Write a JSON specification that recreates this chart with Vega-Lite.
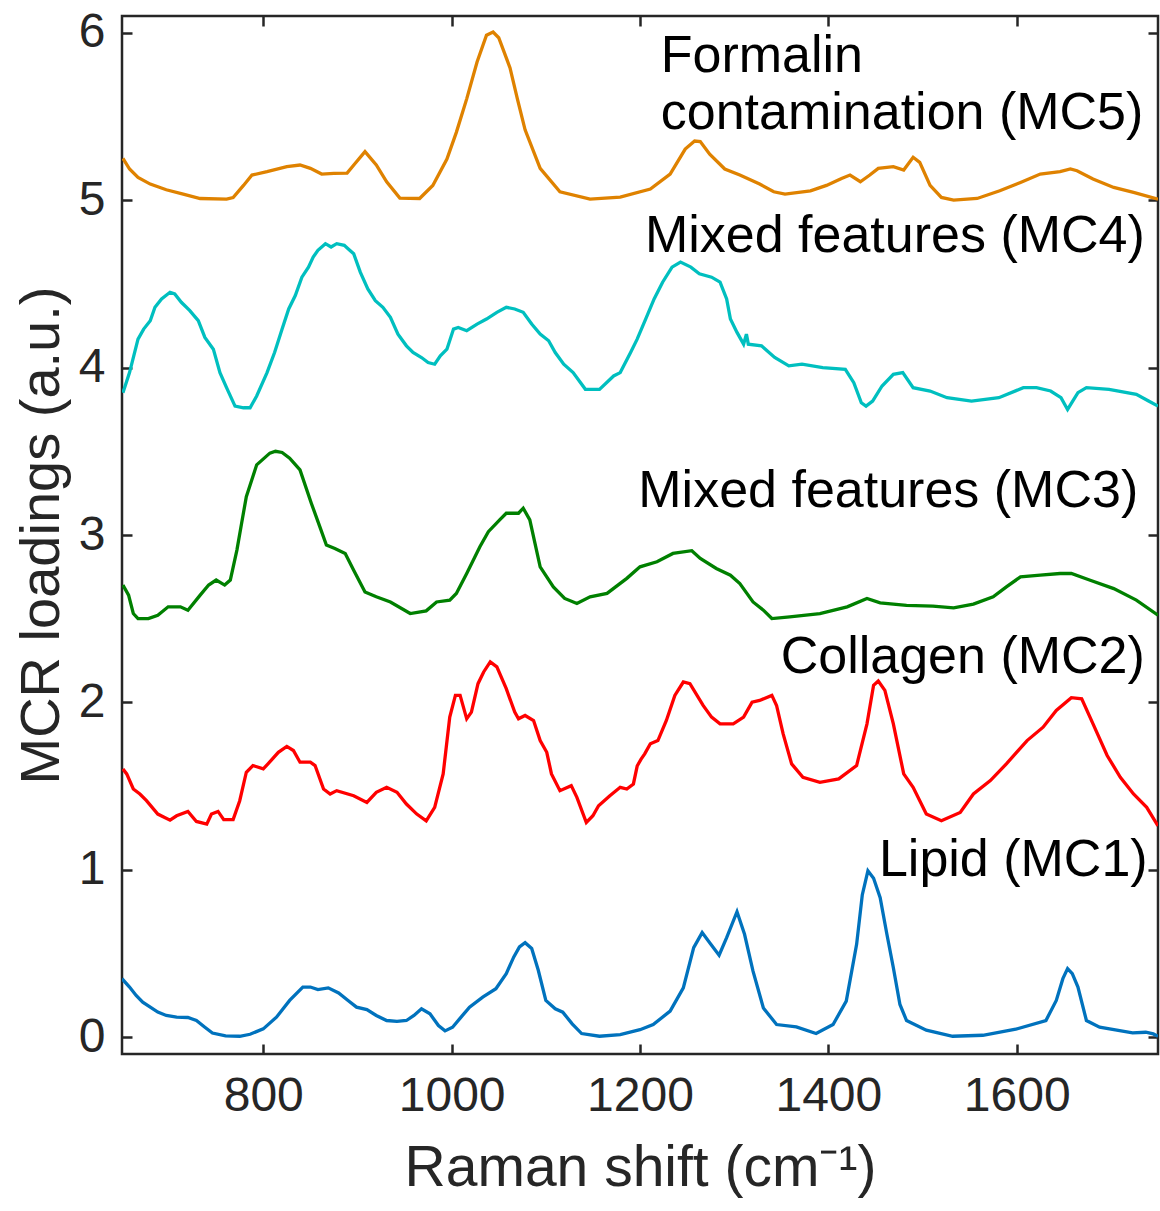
{
  "$schema": "https://vega.github.io/schema/vega-lite/v6.json",
  "width": 1036,
  "height": 1038,
  "autosize": {"type": "none"},
  "padding": {"left": 122, "top": 16, "right": 2, "bottom": 157},
  "background": "white",
  "config": {"view": {"stroke": "#262626", "strokeWidth": 2.5}, "font": "Liberation Sans"},
  "datasets": {
    "curves": [
      {"s":"MC1","x":650,"y":0.35},{"s":"MC1","x":658,"y":0.30},{"s":"MC1","x":665,"y":0.25},{"s":"MC1","x":672,"y":0.21},{"s":"MC1","x":680,"y":0.18},{"s":"MC1","x":688,"y":0.15},{"s":"MC1","x":697,"y":0.13},{"s":"MC1","x":708,"y":0.12},{"s":"MC1","x":720,"y":0.118},{"s":"MC1","x":729,"y":0.10},{"s":"MC1","x":738,"y":0.06},{"s":"MC1","x":746,"y":0.025},{"s":"MC1","x":760,"y":0.008},{"s":"MC1","x":775,"y":0.006},{"s":"MC1","x":786,"y":0.018},{"s":"MC1","x":800,"y":0.05},{"s":"MC1","x":814,"y":0.12},{"s":"MC1","x":828,"y":0.22},{"s":"MC1","x":842,"y":0.30},{"s":"MC1","x":850,"y":0.30},{"s":"MC1","x":858,"y":0.285},{"s":"MC1","x":869,"y":0.295},{"s":"MC1","x":880,"y":0.265},{"s":"MC1","x":890,"y":0.22},{"s":"MC1","x":899,"y":0.18},{"s":"MC1","x":910,"y":0.165},{"s":"MC1","x":920,"y":0.13},{"s":"MC1","x":931,"y":0.10},{"s":"MC1","x":942,"y":0.095},{"s":"MC1","x":952,"y":0.10},{"s":"MC1","x":960,"y":0.13},{"s":"MC1","x":968,"y":0.17},{"s":"MC1","x":977,"y":0.14},{"s":"MC1","x":986,"y":0.07},{"s":"MC1","x":993,"y":0.038},{"s":"MC1","x":1001,"y":0.06},{"s":"MC1","x":1010,"y":0.12},{"s":"MC1","x":1019,"y":0.18},{"s":"MC1","x":1033,"y":0.24},{"s":"MC1","x":1047,"y":0.29},{"s":"MC1","x":1058,"y":0.38},{"s":"MC1","x":1066,"y":0.48},{"s":"MC1","x":1072,"y":0.54},{"s":"MC1","x":1078,"y":0.565},{"s":"MC1","x":1085,"y":0.53},{"s":"MC1","x":1092,"y":0.40},{"s":"MC1","x":1100,"y":0.22},{"s":"MC1","x":1110,"y":0.17},{"s":"MC1","x":1118,"y":0.15},{"s":"MC1","x":1128,"y":0.08},{"s":"MC1","x":1138,"y":0.022},{"s":"MC1","x":1157,"y":0.006},{"s":"MC1","x":1179,"y":0.016},{"s":"MC1","x":1200,"y":0.045},{"s":"MC1","x":1214,"y":0.076},{"s":"MC1","x":1232,"y":0.156},{"s":"MC1","x":1246,"y":0.295},{"s":"MC1","x":1257,"y":0.535},{"s":"MC1","x":1266,"y":0.625},{"s":"MC1","x":1274,"y":0.565},{"s":"MC1","x":1284,"y":0.49},{"s":"MC1","x":1292,"y":0.595},{"s":"MC1","x":1303,"y":0.75},{"s":"MC1","x":1311,"y":0.615},{"s":"MC1","x":1320,"y":0.395},{"s":"MC1","x":1331,"y":0.175},{"s":"MC1","x":1345,"y":0.076},{"s":"MC1","x":1366,"y":0.062},{"s":"MC1","x":1387,"y":0.022},{"s":"MC1","x":1405,"y":0.076},{"s":"MC1","x":1419,"y":0.216},{"s":"MC1","x":1430,"y":0.555},{"s":"MC1","x":1436,"y":0.85},{"s":"MC1","x":1442,"y":0.994},{"s":"MC1","x":1448,"y":0.95},{"s":"MC1","x":1455,"y":0.834},{"s":"MC1","x":1462,"y":0.62},{"s":"MC1","x":1469,"y":0.415},{"s":"MC1","x":1476,"y":0.196},{"s":"MC1","x":1483,"y":0.10},{"s":"MC1","x":1504,"y":0.042},{"s":"MC1","x":1532,"y":0.006},{"s":"MC1","x":1564,"y":0.012},{"s":"MC1","x":1599,"y":0.048},{"s":"MC1","x":1631,"y":0.10},{"s":"MC1","x":1642,"y":0.22},{"s":"MC1","x":1649,"y":0.35},{"s":"MC1","x":1654,"y":0.41},{"s":"MC1","x":1659,"y":0.38},{"s":"MC1","x":1665,"y":0.30},{"s":"MC1","x":1674,"y":0.10},{"s":"MC1","x":1688,"y":0.06},{"s":"MC1","x":1723,"y":0.026},{"s":"MC1","x":1737,"y":0.03},{"s":"MC1","x":1745,"y":0.02},{"s":"MC1","x":1750,"y":0.006},

      {"s":"MC2","x":651,"y":1.603},{"s":"MC2","x":655,"y":1.573},{"s":"MC2","x":662,"y":1.483},{"s":"MC2","x":669,"y":1.453},{"s":"MC2","x":676,"y":1.413},{"s":"MC2","x":688,"y":1.333},{"s":"MC2","x":701,"y":1.297},{"s":"MC2","x":708,"y":1.323},{"s":"MC2","x":720,"y":1.349},{"s":"MC2","x":729,"y":1.289},{"s":"MC2","x":740,"y":1.273},{"s":"MC2","x":745,"y":1.333},{"s":"MC2","x":752,"y":1.349},{"s":"MC2","x":758,"y":1.30},{"s":"MC2","x":768,"y":1.30},{"s":"MC2","x":775,"y":1.413},{"s":"MC2","x":782,"y":1.583},{"s":"MC2","x":789,"y":1.623},{"s":"MC2","x":800,"y":1.603},{"s":"MC2","x":805,"y":1.633},{"s":"MC2","x":816,"y":1.702},{"s":"MC2","x":825,"y":1.737},{"s":"MC2","x":832,"y":1.713},{"s":"MC2","x":839,"y":1.643},{"s":"MC2","x":850,"y":1.643},{"s":"MC2","x":855,"y":1.623},{"s":"MC2","x":864,"y":1.483},{"s":"MC2","x":871,"y":1.453},{"s":"MC2","x":878,"y":1.473},{"s":"MC2","x":896,"y":1.443},{"s":"MC2","x":910,"y":1.403},{"s":"MC2","x":920,"y":1.463},{"s":"MC2","x":931,"y":1.493},{"s":"MC2","x":942,"y":1.463},{"s":"MC2","x":952,"y":1.393},{"s":"MC2","x":963,"y":1.333},{"s":"MC2","x":973,"y":1.293},{"s":"MC2","x":982,"y":1.373},{"s":"MC2","x":991,"y":1.573},{"s":"MC2","x":998,"y":1.912},{"s":"MC2","x":1004,"y":2.042},{"s":"MC2","x":1009,"y":2.042},{"s":"MC2","x":1016,"y":1.902},{"s":"MC2","x":1021,"y":1.942},{"s":"MC2","x":1028,"y":2.112},{"s":"MC2","x":1034,"y":2.182},{"s":"MC2","x":1041,"y":2.242},{"s":"MC2","x":1048,"y":2.212},{"s":"MC2","x":1058,"y":2.082},{"s":"MC2","x":1067,"y":1.942},{"s":"MC2","x":1071,"y":1.902},{"s":"MC2","x":1078,"y":1.922},{"s":"MC2","x":1087,"y":1.892},{"s":"MC2","x":1094,"y":1.772},{"s":"MC2","x":1101,"y":1.702},{"s":"MC2","x":1106,"y":1.573},{"s":"MC2","x":1115,"y":1.473},{"s":"MC2","x":1127,"y":1.503},{"s":"MC2","x":1133,"y":1.433},{"s":"MC2","x":1143,"y":1.283},{"s":"MC2","x":1150,"y":1.323},{"s":"MC2","x":1156,"y":1.383},{"s":"MC2","x":1168,"y":1.443},{"s":"MC2","x":1179,"y":1.493},{"s":"MC2","x":1186,"y":1.483},{"s":"MC2","x":1193,"y":1.513},{"s":"MC2","x":1197,"y":1.62},{"s":"MC2","x":1201,"y":1.66},{"s":"MC2","x":1205,"y":1.693},{"s":"MC2","x":1211,"y":1.753},{"s":"MC2","x":1219,"y":1.772},{"s":"MC2","x":1228,"y":1.892},{"s":"MC2","x":1237,"y":2.042},{"s":"MC2","x":1246,"y":2.122},{"s":"MC2","x":1253,"y":2.112},{"s":"MC2","x":1267,"y":1.982},{"s":"MC2","x":1276,"y":1.912},{"s":"MC2","x":1285,"y":1.872},{"s":"MC2","x":1299,"y":1.872},{"s":"MC2","x":1310,"y":1.912},{"s":"MC2","x":1319,"y":2.002},{"s":"MC2","x":1327,"y":2.012},{"s":"MC2","x":1340,"y":2.042},{"s":"MC2","x":1345,"y":1.982},{"s":"MC2","x":1352,"y":1.812},{"s":"MC2","x":1361,"y":1.633},{"s":"MC2","x":1373,"y":1.553},{"s":"MC2","x":1391,"y":1.523},{"s":"MC2","x":1411,"y":1.543},{"s":"MC2","x":1430,"y":1.623},{"s":"MC2","x":1441,"y":1.872},{"s":"MC2","x":1448,"y":2.102},{"s":"MC2","x":1453,"y":2.128},{"s":"MC2","x":1460,"y":2.072},{"s":"MC2","x":1469,"y":1.872},{"s":"MC2","x":1480,"y":1.573},{"s":"MC2","x":1490,"y":1.493},{"s":"MC2","x":1504,"y":1.333},{"s":"MC2","x":1520,"y":1.293},{"s":"MC2","x":1540,"y":1.343},{"s":"MC2","x":1554,"y":1.453},{"s":"MC2","x":1572,"y":1.533},{"s":"MC2","x":1589,"y":1.633},{"s":"MC2","x":1611,"y":1.772},{"s":"MC2","x":1628,"y":1.852},{"s":"MC2","x":1642,"y":1.952},{"s":"MC2","x":1658,"y":2.028},{"s":"MC2","x":1669,"y":2.022},{"s":"MC2","x":1681,"y":1.872},{"s":"MC2","x":1696,"y":1.683},{"s":"MC2","x":1710,"y":1.553},{"s":"MC2","x":1724,"y":1.453},{"s":"MC2","x":1738,"y":1.373},{"s":"MC2","x":1750,"y":1.263},

      {"s":"MC3","x":651,"y":2.701},{"s":"MC3","x":657,"y":2.641},{"s":"MC3","x":662,"y":2.531},{"s":"MC3","x":667,"y":2.501},{"s":"MC3","x":678,"y":2.501},{"s":"MC3","x":688,"y":2.521},{"s":"MC3","x":699,"y":2.571},{"s":"MC3","x":712,"y":2.571},{"s":"MC3","x":720,"y":2.551},{"s":"MC3","x":733,"y":2.641},{"s":"MC3","x":742,"y":2.701},{"s":"MC3","x":750,"y":2.731},{"s":"MC3","x":759,"y":2.701},{"s":"MC3","x":765,"y":2.731},{"s":"MC3","x":772,"y":2.910},{"s":"MC3","x":777,"y":3.07},{"s":"MC3","x":782,"y":3.229},{"s":"MC3","x":793,"y":3.419},{"s":"MC3","x":807,"y":3.489},{"s":"MC3","x":813,"y":3.50},{"s":"MC3","x":820,"y":3.493},{"s":"MC3","x":828,"y":3.459},{"s":"MC3","x":839,"y":3.389},{"s":"MC3","x":851,"y":3.19},{"s":"MC3","x":860,"y":3.05},{"s":"MC3","x":867,"y":2.94},{"s":"MC3","x":876,"y":2.92},{"s":"MC3","x":887,"y":2.89},{"s":"MC3","x":896,"y":2.79},{"s":"MC3","x":908,"y":2.66},{"s":"MC3","x":920,"y":2.631},{"s":"MC3","x":935,"y":2.60},{"s":"MC3","x":956,"y":2.531},{"s":"MC3","x":973,"y":2.547},{"s":"MC3","x":984,"y":2.60},{"s":"MC3","x":998,"y":2.611},{"s":"MC3","x":1005,"y":2.651},{"s":"MC3","x":1016,"y":2.77},{"s":"MC3","x":1030,"y":2.93},{"s":"MC3","x":1039,"y":3.02},{"s":"MC3","x":1051,"y":3.09},{"s":"MC3","x":1058,"y":3.13},{"s":"MC3","x":1071,"y":3.13},{"s":"MC3","x":1076,"y":3.16},{"s":"MC3","x":1083,"y":3.09},{"s":"MC3","x":1094,"y":2.81},{"s":"MC3","x":1108,"y":2.69},{"s":"MC3","x":1120,"y":2.621},{"s":"MC3","x":1133,"y":2.591},{"s":"MC3","x":1147,"y":2.631},{"s":"MC3","x":1165,"y":2.651},{"s":"MC3","x":1186,"y":2.741},{"s":"MC3","x":1200,"y":2.81},{"s":"MC3","x":1218,"y":2.84},{"s":"MC3","x":1235,"y":2.89},{"s":"MC3","x":1255,"y":2.906},{"s":"MC3","x":1264,"y":2.86},{"s":"MC3","x":1281,"y":2.80},{"s":"MC3","x":1296,"y":2.76},{"s":"MC3","x":1306,"y":2.71},{"s":"MC3","x":1320,"y":2.60},{"s":"MC3","x":1331,"y":2.551},{"s":"MC3","x":1340,"y":2.501},{"s":"MC3","x":1359,"y":2.511},{"s":"MC3","x":1391,"y":2.531},{"s":"MC3","x":1420,"y":2.571},{"s":"MC3","x":1441,"y":2.621},{"s":"MC3","x":1455,"y":2.595},{"s":"MC3","x":1483,"y":2.58},{"s":"MC3","x":1511,"y":2.575},{"s":"MC3","x":1533,"y":2.565},{"s":"MC3","x":1554,"y":2.587},{"s":"MC3","x":1575,"y":2.631},{"s":"MC3","x":1589,"y":2.69},{"s":"MC3","x":1604,"y":2.75},{"s":"MC3","x":1625,"y":2.76},{"s":"MC3","x":1646,"y":2.77},{"s":"MC3","x":1658,"y":2.77},{"s":"MC3","x":1678,"y":2.73},{"s":"MC3","x":1703,"y":2.68},{"s":"MC3","x":1727,"y":2.611},{"s":"MC3","x":1750,"y":2.521},

      {"s":"MC4","x":651,"y":3.85},{"s":"MC4","x":658,"y":3.97},{"s":"MC4","x":667,"y":4.17},{"s":"MC4","x":673,"y":4.23},{"s":"MC4","x":680,"y":4.28},{"s":"MC4","x":685,"y":4.36},{"s":"MC4","x":692,"y":4.41},{"s":"MC4","x":701,"y":4.45},{"s":"MC4","x":706,"y":4.44},{"s":"MC4","x":713,"y":4.39},{"s":"MC4","x":722,"y":4.34},{"s":"MC4","x":731,"y":4.28},{"s":"MC4","x":738,"y":4.18},{"s":"MC4","x":747,"y":4.11},{"s":"MC4","x":754,"y":3.97},{"s":"MC4","x":761,"y":3.88},{"s":"MC4","x":770,"y":3.77},{"s":"MC4","x":779,"y":3.76},{"s":"MC4","x":786,"y":3.76},{"s":"MC4","x":793,"y":3.83},{"s":"MC4","x":804,"y":3.97},{"s":"MC4","x":812,"y":4.09},{"s":"MC4","x":820,"y":4.23},{"s":"MC4","x":827,"y":4.35},{"s":"MC4","x":834,"y":4.43},{"s":"MC4","x":841,"y":4.54},{"s":"MC4","x":848,"y":4.60},{"s":"MC4","x":853,"y":4.66},{"s":"MC4","x":858,"y":4.70},{"s":"MC4","x":866,"y":4.74},{"s":"MC4","x":872,"y":4.72},{"s":"MC4","x":878,"y":4.74},{"s":"MC4","x":886,"y":4.73},{"s":"MC4","x":890,"y":4.71},{"s":"MC4","x":896,"y":4.68},{"s":"MC4","x":903,"y":4.57},{"s":"MC4","x":911,"y":4.47},{"s":"MC4","x":919,"y":4.40},{"s":"MC4","x":927,"y":4.36},{"s":"MC4","x":935,"y":4.30},{"s":"MC4","x":943,"y":4.20},{"s":"MC4","x":952,"y":4.13},{"s":"MC4","x":959,"y":4.09},{"s":"MC4","x":968,"y":4.06},{"s":"MC4","x":975,"y":4.03},{"s":"MC4","x":982,"y":4.02},{"s":"MC4","x":988,"y":4.07},{"s":"MC4","x":995,"y":4.11},{"s":"MC4","x":1002,"y":4.23},{"s":"MC4","x":1007,"y":4.24},{"s":"MC4","x":1016,"y":4.22},{"s":"MC4","x":1027,"y":4.26},{"s":"MC4","x":1037,"y":4.29},{"s":"MC4","x":1048,"y":4.33},{"s":"MC4","x":1058,"y":4.36},{"s":"MC4","x":1067,"y":4.35},{"s":"MC4","x":1076,"y":4.33},{"s":"MC4","x":1085,"y":4.26},{"s":"MC4","x":1094,"y":4.20},{"s":"MC4","x":1103,"y":4.16},{"s":"MC4","x":1110,"y":4.09},{"s":"MC4","x":1119,"y":4.02},{"s":"MC4","x":1129,"y":3.97},{"s":"MC4","x":1142,"y":3.87},{"s":"MC4","x":1157,"y":3.87},{"s":"MC4","x":1172,"y":3.95},{"s":"MC4","x":1179,"y":3.97},{"s":"MC4","x":1190,"y":4.09},{"s":"MC4","x":1197,"y":4.17},{"s":"MC4","x":1206,"y":4.29},{"s":"MC4","x":1215,"y":4.41},{"s":"MC4","x":1224,"y":4.51},{"s":"MC4","x":1234,"y":4.60},{"s":"MC4","x":1243,"y":4.63},{"s":"MC4","x":1254,"y":4.60},{"s":"MC4","x":1263,"y":4.56},{"s":"MC4","x":1276,"y":4.54},{"s":"MC4","x":1285,"y":4.51},{"s":"MC4","x":1292,"y":4.41},{"s":"MC4","x":1296,"y":4.29},{"s":"MC4","x":1303,"y":4.21},{"s":"MC4","x":1310,"y":4.14},{"s":"MC4","x":1313,"y":4.20},{"s":"MC4","x":1315,"y":4.14},{"s":"MC4","x":1329,"y":4.13},{"s":"MC4","x":1343,"y":4.06},{"s":"MC4","x":1358,"y":4.01},{"s":"MC4","x":1372,"y":4.02},{"s":"MC4","x":1394,"y":4.00},{"s":"MC4","x":1418,"y":3.99},{"s":"MC4","x":1427,"y":3.91},{"s":"MC4","x":1435,"y":3.79},{"s":"MC4","x":1440,"y":3.77},{"s":"MC4","x":1447,"y":3.80},{"s":"MC4","x":1457,"y":3.89},{"s":"MC4","x":1469,"y":3.96},{"s":"MC4","x":1479,"y":3.97},{"s":"MC4","x":1490,"y":3.88},{"s":"MC4","x":1508,"y":3.86},{"s":"MC4","x":1526,"y":3.82},{"s":"MC4","x":1552,"y":3.80},{"s":"MC4","x":1581,"y":3.82},{"s":"MC4","x":1607,"y":3.88},{"s":"MC4","x":1621,"y":3.88},{"s":"MC4","x":1636,"y":3.86},{"s":"MC4","x":1647,"y":3.82},{"s":"MC4","x":1654,"y":3.75},{"s":"MC4","x":1665,"y":3.85},{"s":"MC4","x":1674,"y":3.88},{"s":"MC4","x":1698,"y":3.87},{"s":"MC4","x":1727,"y":3.84},{"s":"MC4","x":1740,"y":3.80},{"s":"MC4","x":1750,"y":3.77},

      {"s":"MC5","x":651,"y":5.25},{"s":"MC5","x":658,"y":5.186},{"s":"MC5","x":667,"y":5.136},{"s":"MC5","x":680,"y":5.096},{"s":"MC5","x":697,"y":5.062},{"s":"MC5","x":715,"y":5.036},{"s":"MC5","x":733,"y":5.01},{"s":"MC5","x":761,"y":5.006},{"s":"MC5","x":768,"y":5.016},{"s":"MC5","x":779,"y":5.088},{"s":"MC5","x":788,"y":5.15},{"s":"MC5","x":804,"y":5.17},{"s":"MC5","x":825,"y":5.20},{"s":"MC5","x":839,"y":5.21},{"s":"MC5","x":850,"y":5.19},{"s":"MC5","x":862,"y":5.156},{"s":"MC5","x":875,"y":5.16},{"s":"MC5","x":889,"y":5.162},{"s":"MC5","x":897,"y":5.216},{"s":"MC5","x":908,"y":5.29},{"s":"MC5","x":920,"y":5.21},{"s":"MC5","x":931,"y":5.11},{"s":"MC5","x":945,"y":5.012},{"s":"MC5","x":966,"y":5.01},{"s":"MC5","x":980,"y":5.088},{"s":"MC5","x":995,"y":5.246},{"s":"MC5","x":1005,"y":5.405},{"s":"MC5","x":1016,"y":5.605},{"s":"MC5","x":1027,"y":5.825},{"s":"MC5","x":1037,"y":5.985},{"s":"MC5","x":1044,"y":6.004},{"s":"MC5","x":1050,"y":5.97},{"s":"MC5","x":1062,"y":5.79},{"s":"MC5","x":1070,"y":5.60},{"s":"MC5","x":1078,"y":5.42},{"s":"MC5","x":1094,"y":5.19},{"s":"MC5","x":1115,"y":5.05},{"s":"MC5","x":1147,"y":5.006},{"s":"MC5","x":1179,"y":5.018},{"s":"MC5","x":1211,"y":5.066},{"s":"MC5","x":1232,"y":5.156},{"s":"MC5","x":1248,"y":5.305},{"s":"MC5","x":1258,"y":5.353},{"s":"MC5","x":1264,"y":5.35},{"s":"MC5","x":1274,"y":5.275},{"s":"MC5","x":1290,"y":5.186},{"s":"MC5","x":1306,"y":5.15},{"s":"MC5","x":1327,"y":5.096},{"s":"MC5","x":1342,"y":5.05},{"s":"MC5","x":1354,"y":5.036},{"s":"MC5","x":1381,"y":5.056},{"s":"MC5","x":1398,"y":5.088},{"s":"MC5","x":1414,"y":5.13},{"s":"MC5","x":1423,"y":5.15},{"s":"MC5","x":1434,"y":5.11},{"s":"MC5","x":1444,"y":5.15},{"s":"MC5","x":1453,"y":5.19},{"s":"MC5","x":1469,"y":5.20},{"s":"MC5","x":1480,"y":5.18},{"s":"MC5","x":1490,"y":5.256},{"s":"MC5","x":1497,"y":5.226},{"s":"MC5","x":1508,"y":5.088},{"s":"MC5","x":1520,"y":5.016},{"s":"MC5","x":1533,"y":5.00},{"s":"MC5","x":1558,"y":5.01},{"s":"MC5","x":1582,"y":5.056},{"s":"MC5","x":1604,"y":5.106},{"s":"MC5","x":1625,"y":5.156},{"s":"MC5","x":1646,"y":5.17},{"s":"MC5","x":1657,"y":5.186},{"s":"MC5","x":1664,"y":5.176},{"s":"MC5","x":1681,"y":5.126},{"s":"MC5","x":1703,"y":5.076},{"s":"MC5","x":1724,"y":5.046},{"s":"MC5","x":1750,"y":5.006}
    ],
    "labelsR": [
      {"label": "Mixed features (MC4)", "x": 1736, "y": 4.689},
      {"label": "Mixed features (MC3)", "x": 1729, "y": 3.17},
      {"label": "Collagen (MC2)", "x": 1736, "y": 2.174},
      {"label": "Lipid (MC1)", "x": 1739, "y": 0.964}
    ],
    "labelsL": [
      {"label": "Formalin", "x": 1222, "y": 5.765},
      {"label": "contamination (MC5)", "x": 1222, "y": 5.425}
    ]
  },
  "layer": [
    {
      "data": {"name": "curves"},
      "mark": {"type": "line", "strokeWidth": 3.3, "clip": true},
      "encoding": {
        "x": {"field": "x", "type": "quantitative",
          "scale": {"domain": [650, 1750], "nice": false, "zero": false},
          "axis": {"orient": "bottom", "values": [800, 1000, 1200, 1400, 1600], "format": "d", "grid": false, "domain": false,
            "tickColor": "#262626", "tickWidth": 2.5, "tickSize": -10,
            "labelFontSize": 48, "labelColor": "#262626", "labelFont": "Liberation Sans", "labelPadding": 28,
            "title": "Raman shift (cm⁻¹)", "titleFontSize": 57, "titleFont": "Liberation Sans", "titleFontWeight": "normal", "titleColor": "#262626", "titlePadding": 20}},
        "y": {"field": "y", "type": "quantitative",
          "scale": {"domain": [-0.1, 6.1], "nice": false, "zero": false},
          "axis": {"orient": "left", "values": [0, 1, 2, 3, 4, 5, 6], "format": "d", "grid": false, "domain": false,
            "tickColor": "#262626", "tickWidth": 2.5, "tickSize": -10,
            "labelFontSize": 48, "labelColor": "#262626", "labelFont": "Liberation Sans", "labelPadding": 27,
            "title": "MCR loadings (a.u.)", "titleFontSize": 56, "titleFont": "Liberation Sans", "titleFontWeight": "normal", "titleColor": "#262626", "titlePadding": 8}},
        "color": {"field": "s", "type": "nominal",
          "scale": {"domain": ["MC1", "MC2", "MC3", "MC4", "MC5"], "range": ["#0072BD", "#FF0000", "#008000", "#00BFBF", "#DF8200"]},
          "legend": null}
      }
    },
    {
      "data": {"name": "labelsR"},
      "mark": {"type": "text", "align": "right", "baseline": "alphabetic", "fontSize": 52, "font": "Liberation Sans", "color": "#000000"},
      "encoding": {
        "x": {"field": "x", "type": "quantitative", "scale": {"domain": [650, 1750], "nice": false, "zero": false},
          "axis": {"orient": "top", "values": [800, 1000, 1200, 1400, 1600], "grid": false, "domain": false, "labels": false, "title": null,
            "tickColor": "#262626", "tickWidth": 2.5, "tickSize": -10}},
        "y": {"field": "y", "type": "quantitative", "scale": {"domain": [-0.1, 6.1], "nice": false, "zero": false},
          "axis": {"orient": "right", "values": [0, 1, 2, 3, 4, 5, 6], "grid": false, "domain": false, "labels": false, "title": null,
            "tickColor": "#262626", "tickWidth": 2.5, "tickSize": -10}},
        "text": {"field": "label"}
      }
    },
    {
      "data": {"name": "labelsL"},
      "mark": {"type": "text", "align": "left", "baseline": "alphabetic", "fontSize": 52, "font": "Liberation Sans", "color": "#000000"},
      "encoding": {
        "x": {"field": "x", "type": "quantitative", "scale": {"domain": [650, 1750], "nice": false, "zero": false}, "axis": null},
        "y": {"field": "y", "type": "quantitative", "scale": {"domain": [-0.1, 6.1], "nice": false, "zero": false}, "axis": null},
        "text": {"field": "label"}
      }
    }
  ],
  "resolve": {"axis": {"x": "independent", "y": "independent"}}
}
